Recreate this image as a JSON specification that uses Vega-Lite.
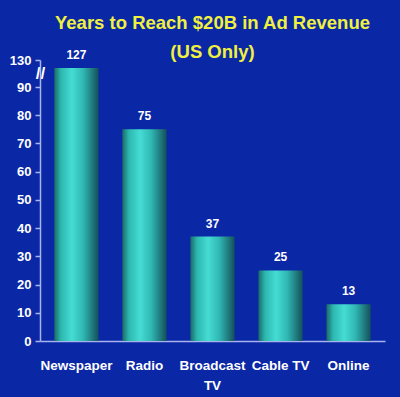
{
  "$schema": "https://vega.github.io/schema/vega-lite/v6.json",
  "width": 345,
  "height": 281,
  "autosize": {"type": "none"},
  "padding": {"left": 40, "top": 60, "right": 15, "bottom": 56},
  "background": "#0a27a5",
  "config": {"view": {"stroke": null}, "font": "Liberation Sans"},
  "title": {
    "text": ["Years to Reach $20B in Ad Revenue", "(US Only)"],
    "color": "#f0f040",
    "font": "Liberation Sans",
    "fontSize": 18.5,
    "fontWeight": "bold",
    "lineHeight": 29,
    "anchor": "middle",
    "offset": -12
  },
  "data": {
    "values": [
      {"medium": "Newspaper", "years": 127},
      {"medium": "Radio", "years": 75},
      {"medium": "Broadcast TV", "years": 37},
      {"medium": "Cable TV", "years": 25},
      {"medium": "Online", "years": 13}
    ]
  },
  "encoding": {
    "x": {
      "field": "medium",
      "type": "nominal",
      "sort": null,
      "scale": {"paddingInner": 0.35, "paddingOuter": 0.21},
      "axis": {
        "title": null,
        "labelAngle": 0,
        "ticks": false,
        "domainColor": "#a8b4f0",
        "domainWidth": 1.5,
        "labelColor": "white",
        "labelFont": "Liberation Sans",
        "labelFontWeight": "bold",
        "labelFontSize": 13.5,
        "labelPadding": 17,
        "labelLineHeight": 20,
        "labelExpr": "datum.label == 'Broadcast TV' ? ['Broadcast', 'TV'] : datum.label"
      }
    },
    "y": {
      "field": "years",
      "type": "quantitative",
      "scale": {"domain": [0, 90, 127, 130], "range": [281, 27, 8, 0], "nice": false, "zero": false},
      "axis": {
        "title": null,
        "grid": false,
        "values": [0, 10, 20, 30, 40, 50, 60, 70, 80, 90, 117, 130],
        "labelExpr": "datum.value == 117 ? '//' : datum.label",
        "labelOverlap": false,
        "domainColor": "#a8b4f0",
        "domainWidth": 1.5,
        "tickColor": "#a8b4f0",
        "tickWidth": 1.5,
        "tickSize": 5,
        "tickOpacity": {"condition": {"test": "datum.value == 117", "value": 0}, "value": 1},
        "labelColor": "white",
        "labelFont": "Liberation Sans",
        "labelFontWeight": "bold",
        "labelFontSize": {"condition": {"test": "datum.value == 117", "value": 17}, "value": 13},
        "labelPadding": {"condition": {"test": "datum.value == 117", "value": -5}, "value": 4},
        "labelAlign": {"condition": {"test": "datum.value == 117", "value": "center"}, "value": "right"}
      }
    }
  },
  "layer": [
    {
      "mark": {
        "type": "bar",
        "color": {
          "gradient": "linear",
          "x1": 0, "x2": 1, "y1": 0, "y2": 0,
          "stops": [
            {"offset": 0, "color": "#1b6a68"},
            {"offset": 0.15, "color": "#2cb8b0"},
            {"offset": 0.4, "color": "#45dcd4"},
            {"offset": 0.65, "color": "#30b8b4"},
            {"offset": 1, "color": "#14505a"}
          ]
        }
      }
    },
    {
      "mark": {
        "type": "text",
        "dy": -6,
        "baseline": "bottom",
        "color": "white",
        "font": "Liberation Sans",
        "fontWeight": "bold",
        "fontSize": 12
      },
      "encoding": {"text": {"field": "years", "type": "quantitative"}}
    }
  ]
}
